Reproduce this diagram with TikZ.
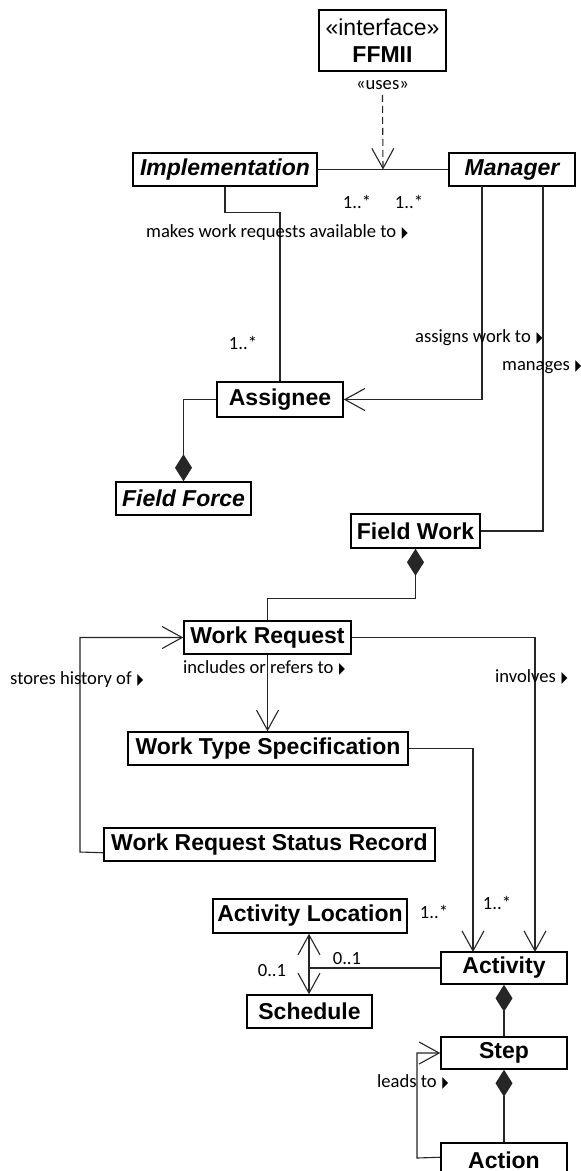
\documentclass[tikz,border=0pt]{standalone}
\usepackage{fontspec}
\usepackage{graphicx}
\setmainfont{Liberation Sans}
\newfontfamily\lblfont{Carlito}
\newfontfamily\symfont{DejaVu Sans}
\usetikzlibrary{arrows.meta,calc}

% narrow navigation triangle after association names
\newcommand{\navtri}{\hspace{1.5pt}\raisebox{0pt}{\scalebox{0.5}[1]{\symfont\fontsize{15.5}{15.5}\selectfont ▶}}}

\tikzset{
  cls/.style={draw=black, line width=1.5pt, inner sep=0pt, fill=white,
              font=\fontsize{23}{26}\selectfont\bfseries},
  abscls/.style={cls, font=\fontsize{23}{26}\selectfont\bfseries\itshape},
  lbl/.style={inner sep=0pt, font=\fontsize{18.6}{20}\selectfont\lblfont},
  conn/.style={draw=black!85, line width=1.1pt},
  nav/.style={conn, -{Straight Barb[length=20pt,width=22pt,line width=1.1pt]}},
  comp/.style={conn, {Diamond[length=27pt,width=17pt]}-},
}

\begin{document}
\begin{tikzpicture}[x=1pt,y=-1pt]
\path[use as bounding box, fill=white] (0,0) rectangle (581,1171);
\clip (0,0) rectangle (581,1171);

% classes
\node[cls, minimum width=127pt, minimum height=61pt, align=center] (ffmii) at (382.5,40.5)
  {{\mdseries «interface»}\\[1pt]FFMII};
\node[abscls, minimum width=184pt, minimum height=33pt] (impl) at (225,169.5) {Implementation};
\node[abscls, minimum width=126pt, minimum height=33pt] (mgr) at (512,169.5) {Manager};
\node[cls, minimum width=126pt, minimum height=35pt] (assignee) at (280,399.5) {Assignee};
\node[abscls, minimum width=135pt, minimum height=33pt] (fforce) at (183.5,498.5) {Field Force};
\node[cls, minimum width=129pt, minimum height=34pt] (fwork) at (415.5,531) {Field Work};
\node[cls, minimum width=167pt, minimum height=33pt] (wreq) at (267.5,637.5) {Work Request};
\node[cls, minimum width=280pt, minimum height=33pt] (wts) at (268,748.5) {Work Type Specification};
\node[cls, minimum width=331pt, minimum height=33pt] (wrsr) at (269.5,844.5) {Work Request Status Record};
\node[cls, minimum width=194pt, minimum height=34pt] (actloc) at (310,916) {Activity Location};
\node[cls, minimum width=125pt, minimum height=33pt] (sched) at (309.5,1011.5) {Schedule};
\node[cls, minimum width=126pt, minimum height=32pt] (activity) at (504,968) {Activity};
\node[cls, minimum width=126pt, minimum height=32pt] (step) at (504,1053) {Step};
\node[cls, minimum width=126pt, minimum height=34pt] (action) at (504,1160) {Action};

% FFMII usage of the Implementation–Manager association
\node[lbl] (uses) at (382.5,85) {«uses»};
\coordinate (assocmid) at ($(impl.east)!0.5!(mgr.west)$);
\draw[conn] (impl.east) -- (mgr.west);
\draw[nav, dash pattern=on 7pt off 4pt] ($(uses.south)+(0,5)$) -- (assocmid);
\node[lbl] (m1) at (357,202) {1..*};
\node[lbl] (m2) at (409,202) {1..*};

% Implementation makes work requests available to Assignee
\draw[conn] (impl.south) -- ++(0,26) -| (assignee.north);
\node[lbl, anchor=west] (l1) at (146,233) {makes work requests available to \navtri};
\node[lbl] (m3) at (243,343) {1..*};

% Manager assigns work to Assignee
\coordinate (mgrA) at (482,186);
\draw[nav] (mgrA) |- (assignee.east);
\node[lbl, anchor=west] (l2) at (415,338) {assigns work to \navtri};

% Manager manages Field Work
\coordinate (mgrB) at (543,186);
\draw[conn] (mgrB) |- (fwork.east);
\node[lbl, anchor=west] (l3) at (502,367) {manages \navtri};

% Field Force is composed of Assignees
\draw[comp] (fforce.north) |- (assignee.west);

% Field Work is composed of Work Requests
\draw[comp] (fwork.south) -- ++(0,50) -| (wreq.north);

% Work Request includes or refers to Work Type Specification
\draw[nav] (wreq.south) -- (wreq.south |- wts.north);
\node[lbl, anchor=west] (l4) at (183,668) {includes or refers to \navtri};

% Work Request Status Record stores history of Work Request
\coordinate (wrsrL) at ($(wrsr.south west)+(0,-9)$);
\draw[nav] (wrsrL) -- (80,852) |- (wreq.west);
\node[lbl, anchor=west] (l5) at (10,680) {stores history of \navtri};

% Work Request involves Activity
\coordinate (actR) at (535,952);
\draw[nav] (wreq.east) -| (actR);
\node[lbl, anchor=west] (l6) at (495,677) {involves \navtri};

% Work Type Specification relates to Activity
\coordinate (actL) at (473,952);
\draw[nav] (wts.east) -| (actL);
\node[lbl] (m4) at (434,912) {1..*};
\node[lbl] (m5) at (497,903) {1..*};

% Activity Location / Schedule of an Activity
\coordinate (lsx) at (309,968);
\draw[nav] (lsx) -- (lsx |- actloc.south);
\draw[nav] (lsx) -- (lsx |- sched.north);
\draw[conn] (lsx) -- (activity.west);
\node[lbl] (m6) at (347,959) {0..1};
\node[lbl] (m7) at (272,971) {0..1};

% Activity is composed of Steps, Step of Actions
\draw[comp] (activity.south) -- (step.north);
\draw[comp] (step.south) -- (action.north);

% Action leads to Step
\coordinate (actionL) at ($(action.north west)+(0,15)$);
\draw[nav] (actionL) -- (417,1158) |- (step.west);
\node[lbl, anchor=west] (l7) at (377,1082) {leads to \navtri};
\end{tikzpicture}
\end{document}
